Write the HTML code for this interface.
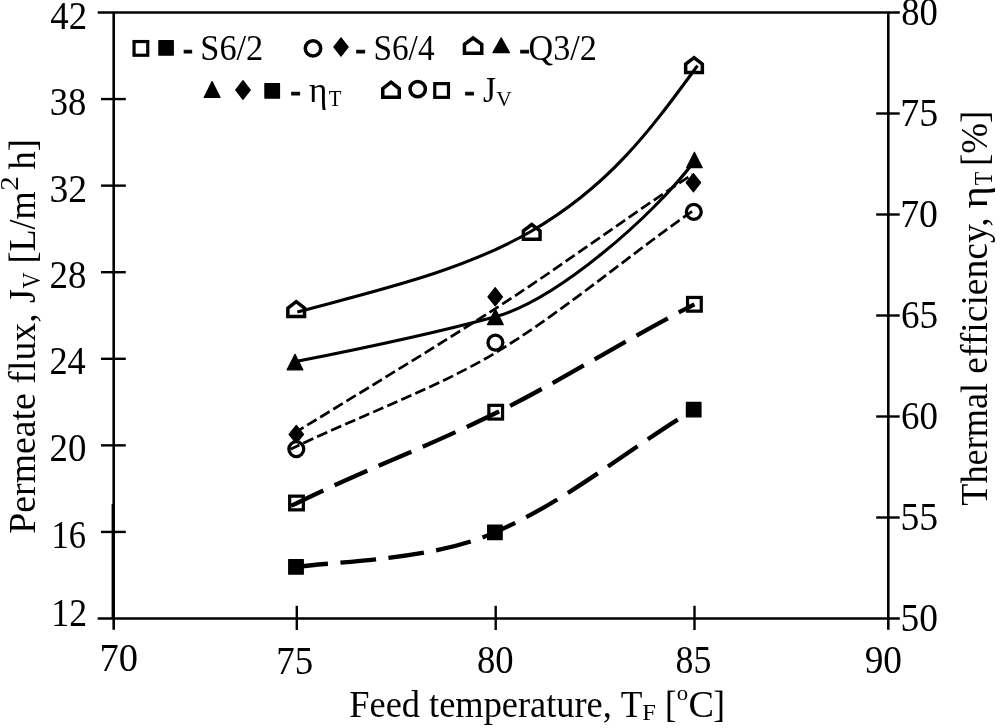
<!DOCTYPE html>
<html lang="en"><head><meta charset="utf-8"><title>Permeate flux and thermal efficiency vs feed temperature</title>
<style>html,body{margin:0;padding:0;background:#fff;}body{width:1000px;height:728px;overflow:hidden;}svg{display:block;}text{font-family:"Liberation Serif","DejaVu Serif",serif;fill:#000;}</style>
</head><body>
<svg width="1000" height="728" viewBox="0 0 1000 728">
<rect width="1000" height="728" fill="#fff"/>
<g stroke="#000" stroke-width="2.6" fill="none" stroke-linecap="butt">
<line x1="97.7" y1="12.5" x2="899.8" y2="12.5"/>
<line x1="97.7" y1="618.5" x2="899.8" y2="618.5"/>
<line x1="113.7" y1="12.5" x2="113.7" y2="629.8"/>
<line x1="888.3" y1="12.5" x2="888.3" y2="629.8"/>
<line x1="113.3" y1="504" x2="113.3" y2="619" stroke-width="3.4"/>
</g>
<g stroke="#000" stroke-width="2.4" fill="none">
<line x1="101" y1="99.07" x2="125.8" y2="99.07"/>
<line x1="101" y1="185.64" x2="125.8" y2="185.64"/>
<line x1="101" y1="272.21" x2="125.8" y2="272.21"/>
<line x1="101" y1="358.79" x2="125.8" y2="358.79"/>
<line x1="101" y1="445.36" x2="125.8" y2="445.36"/>
<line x1="101" y1="531.93" x2="125.8" y2="531.93"/>
<line x1="876.2" y1="113.50" x2="899.7" y2="113.50"/>
<line x1="876.2" y1="214.50" x2="899.7" y2="214.50"/>
<line x1="876.2" y1="315.50" x2="899.7" y2="315.50"/>
<line x1="876.2" y1="416.50" x2="899.7" y2="416.50"/>
<line x1="876.2" y1="517.50" x2="899.7" y2="517.50"/>
<line x1="296.8" y1="605.8" x2="296.8" y2="630"/>
<line x1="495.7" y1="605.8" x2="495.7" y2="630"/>
<line x1="694.5" y1="605.8" x2="694.5" y2="630"/>
</g>
<g>
<text x="50.30" y="28.5" font-size="39.4" textLength="36.80" lengthAdjust="spacingAndGlyphs">42</text>
<text x="49.74" y="114.9" font-size="39.4" textLength="36.66" lengthAdjust="spacingAndGlyphs">38</text>
<text x="49.49" y="201.5" font-size="39.4" textLength="37.66" lengthAdjust="spacingAndGlyphs">32</text>
<text x="49.56" y="288.1" font-size="39.4" textLength="36.84" lengthAdjust="spacingAndGlyphs">28</text>
<text x="49.39" y="374.1" font-size="39.4" textLength="36.30" lengthAdjust="spacingAndGlyphs">24</text>
<text x="49.56" y="460.9" font-size="39.4" textLength="36.84" lengthAdjust="spacingAndGlyphs">20</text>
<text x="51.53" y="548.1" font-size="39.4" textLength="34.57" lengthAdjust="spacingAndGlyphs">16</text>
<text x="51.33" y="625.5" font-size="39.4" textLength="35.71" lengthAdjust="spacingAndGlyphs">12</text>
<text x="901.20" y="24.9" font-size="39.4" textLength="36.69" lengthAdjust="spacingAndGlyphs">80</text>
<text x="900.19" y="126.10000000000001" font-size="39.4" textLength="37.99" lengthAdjust="spacingAndGlyphs">75</text>
<text x="900.21" y="226.9" font-size="39.4" textLength="37.73" lengthAdjust="spacingAndGlyphs">70</text>
<text x="900.95" y="327.9" font-size="39.4" textLength="37.20" lengthAdjust="spacingAndGlyphs">65</text>
<text x="900.96" y="428.9" font-size="39.4" textLength="36.95" lengthAdjust="spacingAndGlyphs">60</text>
<text x="900.45" y="529.9" font-size="39.4" textLength="37.73" lengthAdjust="spacingAndGlyphs">55</text>
<text x="900.46" y="630.5" font-size="39.4" textLength="37.46" lengthAdjust="spacingAndGlyphs">50</text>
<text x="99.46" y="671.2" font-size="39.4" textLength="38.50" lengthAdjust="spacingAndGlyphs">70</text>
<text x="276.36" y="673.6" font-size="39.4" textLength="36.88" lengthAdjust="spacingAndGlyphs">75</text>
<text x="476.90" y="672.7" font-size="39.4" textLength="36.69" lengthAdjust="spacingAndGlyphs">80</text>
<text x="675.53" y="672.7" font-size="39.4" textLength="35.86" lengthAdjust="spacingAndGlyphs">85</text>
<text x="864.72" y="672.9" font-size="39.4" textLength="37.30" lengthAdjust="spacingAndGlyphs">90</text>
<text x="349.35" y="716.9" font-size="38.4" textLength="262.51" lengthAdjust="spacingAndGlyphs">Feed temperature,</text>
<text x="620.81" y="716.9" font-size="38.4" textLength="21.64" lengthAdjust="spacingAndGlyphs">T</text>
<text x="642.21" y="720.4" font-size="23.5" textLength="13.76" lengthAdjust="spacingAndGlyphs">F</text>
<text x="665.02" y="716.9" font-size="38.4" textLength="11.55" lengthAdjust="spacingAndGlyphs">[</text>
<text x="676.71" y="700.1" font-size="21.5" textLength="11.39" lengthAdjust="spacingAndGlyphs">o</text>
<text x="688.41" y="716.9" font-size="38.4" textLength="25.49" lengthAdjust="spacingAndGlyphs">C</text>
<text x="713.22" y="716.9" font-size="38.4" textLength="11.74" lengthAdjust="spacingAndGlyphs">]</text>
<text transform="translate(34.8 533.68) rotate(-90)" font-size="38.4" textLength="220.31" lengthAdjust="spacingAndGlyphs">Permeate flux,</text>
<text transform="translate(34.8 302.99) rotate(-90)" font-size="38.4" textLength="13.85" lengthAdjust="spacingAndGlyphs">J</text>
<text transform="translate(39.5 288.62) rotate(-90)" font-size="24.8" textLength="16.08" lengthAdjust="spacingAndGlyphs">V</text>
<text transform="translate(34.8 263.49) rotate(-90)" font-size="38.4" textLength="72.17" lengthAdjust="spacingAndGlyphs">[L/m</text>
<text transform="translate(17.9 190.69) rotate(-90)" font-size="24.4" textLength="14.52" lengthAdjust="spacingAndGlyphs">2</text>
<text transform="translate(34.8 169.38) rotate(-90)" font-size="38.4" textLength="30.41" lengthAdjust="spacingAndGlyphs">h]</text>
<text transform="translate(986.9 505.71) rotate(-90)" font-size="38.4" textLength="122.86" lengthAdjust="spacingAndGlyphs">Thermal</text>
<text transform="translate(986.9 373.67) rotate(-90)" font-size="38.4" textLength="156.39" lengthAdjust="spacingAndGlyphs">efficiency,</text>
<text transform="translate(986.9 208.56) rotate(-90)" font-size="38.4" textLength="22.49" lengthAdjust="spacingAndGlyphs">η</text>
<text transform="translate(992 185.25) rotate(-90)" font-size="24.5" textLength="13.36" lengthAdjust="spacingAndGlyphs">T</text>
<text transform="translate(986.9 166.04) rotate(-90)" font-size="38.4" textLength="55.35" lengthAdjust="spacingAndGlyphs">[%]</text>
<text x="183.04" y="60" font-size="34.8" textLength="9.79" lengthAdjust="spacingAndGlyphs" stroke="#000" stroke-width="1">-</text>
<text x="200.28" y="60" font-size="34.8" textLength="63.03" lengthAdjust="spacingAndGlyphs">S6/2</text>
<text x="355.39" y="60" font-size="34.8" textLength="10.31" lengthAdjust="spacingAndGlyphs" stroke="#000" stroke-width="1">-</text>
<text x="373.45" y="60" font-size="34.8" textLength="61.11" lengthAdjust="spacingAndGlyphs">S6/4</text>
<text x="519.39" y="60" font-size="34.8" textLength="10.31" lengthAdjust="spacingAndGlyphs" stroke="#000" stroke-width="1">-</text>
<text x="528.53" y="60" font-size="34.8" textLength="68.30" lengthAdjust="spacingAndGlyphs">Q3/2</text>
<text x="290.39" y="101.7" font-size="34.8" textLength="10.31" lengthAdjust="spacingAndGlyphs" stroke="#000" stroke-width="1">-</text>
<text x="309.09" y="101.6" font-size="34.8" textLength="18.43" lengthAdjust="spacingAndGlyphs">η</text>
<text x="328.74" y="106.4" font-size="22.6" textLength="12.75" lengthAdjust="spacingAndGlyphs">T</text>
<text x="464.62" y="101.7" font-size="34.8" textLength="10.05" lengthAdjust="spacingAndGlyphs" stroke="#000" stroke-width="1">-</text>
<text x="482.89" y="101.8" font-size="34.8" textLength="12.87" lengthAdjust="spacingAndGlyphs">J</text>
<text x="496.35" y="106.2" font-size="21.5" textLength="15.53" lengthAdjust="spacingAndGlyphs">V</text>
</g>
<g>
<polygon points="296.2,301.70 304.55,308.14 304.55,316.55 287.85,316.55 287.85,308.14" fill="#fff" stroke="#000" stroke-width="3.5" stroke-linejoin="miter"/>
<polygon points="531.7,224.50 540.05,230.94 540.05,239.35 523.35,239.35 523.35,230.94" fill="#fff" stroke="#000" stroke-width="3.5" stroke-linejoin="miter"/>
<polygon points="694.0,57.70 702.35,64.14 702.35,72.55 685.65,72.55 685.65,64.14" fill="#fff" stroke="#000" stroke-width="3.5" stroke-linejoin="miter"/>
<polygon points="295,354.30 302.85,369.80 287.15,369.80" fill="#000" stroke="#000" stroke-width="1.2" stroke-linejoin="round"/>
<polygon points="495.4,309.10 503.25,324.60 487.55,324.60" fill="#000" stroke="#000" stroke-width="1.2" stroke-linejoin="round"/>
<polygon points="694.4,152.20 702.25,167.70 686.55,167.70" fill="#000" stroke="#000" stroke-width="1.2" stroke-linejoin="round"/>
<polygon points="296.3,425.30 303.55,434.4 296.3,443.50 289.05,434.4" fill="#000" stroke="#000" stroke-width="1.2" stroke-linejoin="round"/>
<polygon points="495.2,287.70 502.45,296.8 495.2,305.90 487.95,296.8" fill="#000" stroke="#000" stroke-width="1.2" stroke-linejoin="round"/>
<polygon points="693.4,173.60 700.65,182.7 693.4,191.80 686.15,182.7" fill="#000" stroke="#000" stroke-width="1.2" stroke-linejoin="round"/>
<circle cx="296.3" cy="449.1" r="7.45" fill="#fff" stroke="#000" stroke-width="3.3"/>
<circle cx="495.4" cy="342.6" r="7.45" fill="#fff" stroke="#000" stroke-width="3.3"/>
<circle cx="693.8" cy="211.9" r="7.45" fill="#fff" stroke="#000" stroke-width="3.3"/>
<rect x="289.65" y="496.15" width="13.70" height="13.70" fill="#fff" stroke="#000" stroke-width="3.2"/>
<rect x="488.85" y="405.35" width="13.70" height="13.70" fill="#fff" stroke="#000" stroke-width="3.2"/>
<rect x="687.55" y="297.45" width="13.70" height="13.70" fill="#fff" stroke="#000" stroke-width="3.2"/>
<rect x="288.70" y="559.50" width="14.60" height="14.60" fill="#000" stroke="#000" stroke-width="1.2" stroke-linejoin="round"/>
<rect x="487.60" y="525.10" width="14.60" height="14.60" fill="#000" stroke="#000" stroke-width="1.2" stroke-linejoin="round"/>
<rect x="686.40" y="402.30" width="14.60" height="14.60" fill="#000" stroke="#000" stroke-width="1.2" stroke-linejoin="round"/>
</g>
<g fill="none" stroke="#000">
<path d="M297.3 312.0 C377.7 290.3 462.1 271.3 531.7 231.0 C611.9 184.5 653.1 126.0 697.5 65.7" stroke-width="3.1"/>
<path d="M297.0 361.3 C357.9 349.3 425.0 335.8 495.4 316.7 C555.3 300.5 652.0 217.8 694.5 161.0" stroke-width="3.1"/>
<path d="M296.3 431.9 C362.0 391.6 431.9 349.3 495.4 308.6 C559.6 267.5 629.4 215.5 692.5 174.4" stroke-width="2.7" stroke-dasharray="11 4.3" stroke-dashoffset="2.4"/>
<path d="M290.5 449.2 L296.3 446.5 C359.7 416.1 439.3 386.9 495.4 352.8 C564.1 311.1 626.8 256.9 693.0 210.7" stroke-width="2.7" stroke-dasharray="11 4.3" stroke-dashoffset="1.1"/>
<path d="M291 505.9 L296.6 503.3 C363.9 469.9 427.1 447.2 497.9 412.0 C562.5 379.8 625.8 339.6 694.4 304.3" stroke-width="4.3" stroke-dasharray="35.8 12.4"/>
<path d="M292.5 567.1 L296.0 566.8 C352.2 560.5 434.7 559.0 494.9 532.4 C568.7 499.8 623.7 452.3 693.7 409.6" stroke-width="4.3" stroke-dasharray="35.8 12.4"/>
</g>
<g>
<rect x="134.05" y="41.55" width="13.70" height="13.70" fill="#fff" stroke="#000" stroke-width="3.2"/>
<rect x="158.90" y="40.70" width="14.40" height="14.40" fill="#000" stroke="#000" stroke-width="1.2" stroke-linejoin="round"/>
<circle cx="313" cy="48.4" r="7.70" fill="#fff" stroke="#000" stroke-width="3.5"/>
<polygon points="341,37.80 348.25,47 341,56.20 333.75,47" fill="#000" stroke="#000" stroke-width="1.2" stroke-linejoin="round"/>
<polygon points="473.1,38.00 481.75,44.44 481.75,53.25 464.45,53.25 464.45,44.44" fill="#fff" stroke="#000" stroke-width="3.5" stroke-linejoin="miter"/>
<polygon points="501.2,37.90 509.45,52.60 492.95,52.60" fill="#000" stroke="#000" stroke-width="1.2" stroke-linejoin="round"/>
<polygon points="212.1,81.60 220.05,97.40 204.15,97.40" fill="#000" stroke="#000" stroke-width="1.2" stroke-linejoin="round"/>
<polygon points="243,80.70 250.35,90 243,99.30 235.65,90" fill="#000" stroke="#000" stroke-width="1.2" stroke-linejoin="round"/>
<rect x="264.90" y="83.50" width="14.60" height="14.60" fill="#000" stroke="#000" stroke-width="1.2" stroke-linejoin="round"/>
<polygon points="391.0,82.20 399.25,88.64 399.25,97.15 382.75,97.15 382.75,88.64" fill="#fff" stroke="#000" stroke-width="3.5" stroke-linejoin="miter"/>
<circle cx="417.7" cy="89.1" r="7.70" fill="#fff" stroke="#000" stroke-width="3.5"/>
<rect x="434.75" y="83.65" width="13.70" height="13.70" fill="#fff" stroke="#000" stroke-width="3.2"/>
</g>
</svg>
</body></html>
